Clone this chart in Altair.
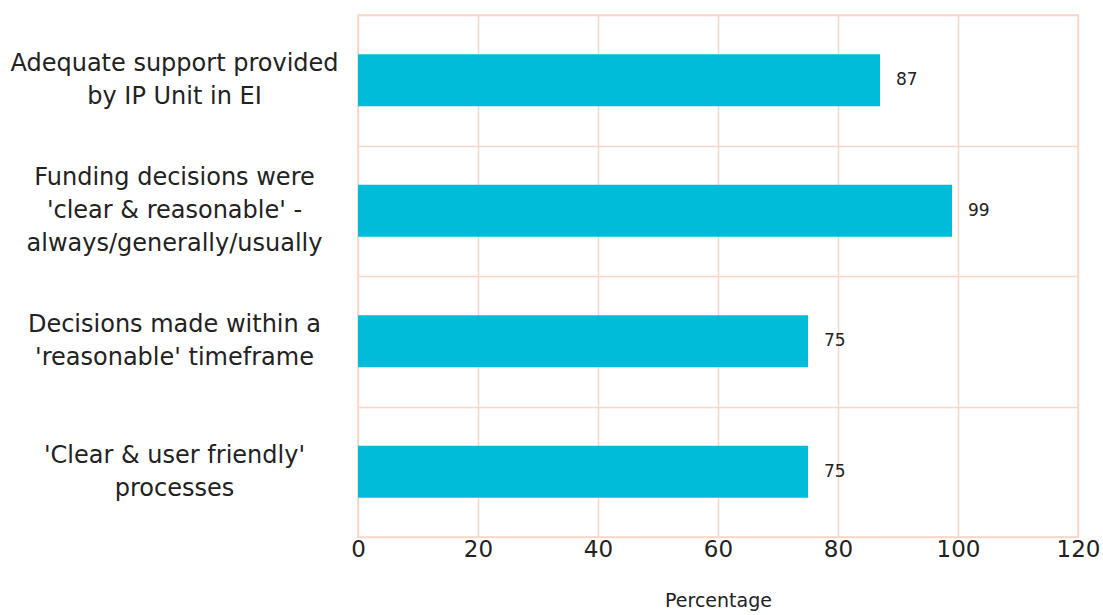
import altair as alt
import pandas as pd

# Survey statements (line breaks marked with "|") and share of respondents agreeing
categories = [
    "Adequate support provided|by IP Unit in EI",
    "Funding decisions  were|'clear & reasonable' -|always/generally/usually",
    "Decisions made within a|'reasonable' timeframe",
    "'Clear & user friendly'|processes",
]
values = [87, 99, 75, 75]
x_ticks = [0, 20, 40, 60, 80, 100, 120]

df = pd.DataFrame({"statement": categories, "pct": values})

GRID = "#f9d6c8"
BAR = "#00bcd8"
FONT = "DejaVu Sans"
INK = "#222222"
LINE_H = 33

# shift multi-line labels up so each block is centred on its bar
label_shift = {
    "condition": {
        "test": "length(split(datum.value, '|')) > 2",
        "value": -LINE_H,
    },
    "value": -LINE_H / 2,
}

y_enc = alt.Y(
    "statement:N",
    sort=None,
    scale=alt.Scale(paddingInner=0, paddingOuter=0),
    axis=alt.Axis(
        title=None,
        tickBand="extent",
        grid=True,
        gridColor=GRID,
        gridWidth=1.5,
        ticks=False,
        domain=False,
        labelAlign="center",
        labelPadding=184,
        labelOffset=label_shift,
        labelFont=FONT,
        labelFontSize=24,
        labelColor=INK,
        labelLineHeight=LINE_H,
        labelLimit=0,
        labelExpr="split(datum.label, '|')",
    ),
)

x_enc = alt.X(
    "pct:Q",
    scale=alt.Scale(domain=[0, 120], nice=False),
    axis=alt.Axis(
        values=x_ticks,
        title="Percentage",
        titleFont=FONT,
        titleFontSize=19,
        titleFontWeight="normal",
        titleColor=INK,
        titlePadding=30,
        grid=True,
        gridColor=GRID,
        gridWidth=1.5,
        ticks=False,
        domain=False,
        labelFlush=False,
        labelFont=FONT,
        labelFontSize=23,
        labelColor=INK,
        labelPadding=1,
    ),
)

bars = alt.Chart(df).mark_bar(height=alt.RelativeBandSize(0.4), color=BAR).encode(
    x=x_enc, y=y_enc
)

labels = alt.Chart(df).mark_text(
    align="left", baseline="middle", dx=16, fontSize=17, font=FONT, color=INK
).encode(x="pct:Q", y=alt.Y("statement:N", sort=None), text="pct:Q")

chart = (
    alt.layer(bars, labels)
    .properties(
        width=720,
        height=522,
        autosize=alt.AutoSizeParams(type="none"),
        padding={"left": 358, "top": 15, "right": 25, "bottom": 78},
        background="white",
    )
    .configure_view(stroke=GRID, strokeWidth=1.5)
)

chart.save("out.html", embed_options={"renderer": "svg", "actions": False})
